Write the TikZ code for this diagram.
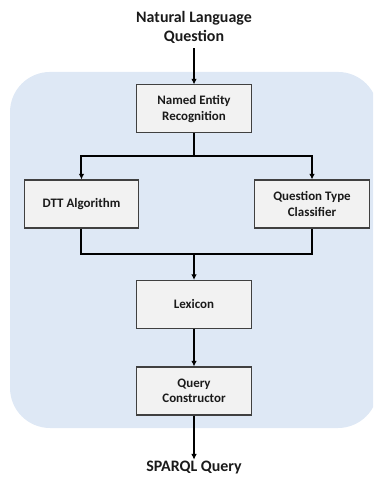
\documentclass[tikz,border=0pt]{standalone}
\usepackage{fontspec}
\setmainfont{Carlito}
\usetikzlibrary{arrows.meta,positioning}
\definecolor{panel}{HTML}{DEE8F5}
\definecolor{boxfill}{HTML}{F2F2F2}
\definecolor{boxline}{HTML}{404040}
\definecolor{ink}{HTML}{1A1A1A}
\tikzset{
  box/.style={draw=boxline,line width=0.8pt,align=center,fill=boxfill,
    minimum height=1.27cm,minimum width=3.04cm,inner sep=2pt,
    font=\bfseries\fontsize{9.75}{11.7}\selectfont,text=ink},
  arr/.style={-{Latex[length=1.5mm,width=1.5mm]},line width=1.5pt,black},
  link/.style={line width=1.5pt,black},
  io/.style={font=\bfseries\fontsize{12}{14.4}\selectfont,align=center,text=ink}
}

\begin{document}
\begin{tikzpicture}
  \useasboundingbox (0,0) rectangle (9.869,12.620);
  % shaded panel behind the pipeline
  \clip (0,0) rectangle (9.869,12.620);
  \fill[panel,rounded corners=1.06cm] (0.265,1.296) rectangle (10.0,10.716);

  \node[io] (question) at (5.133,11.893) {Natural Language\\Question};
  \node[box] (ner) at (5.133,9.737) {Named Entity\\Recognition};
  \coordinate (split) at (5.133,8.493);

  \node[box] (dtt) at (2.156,7.223) {DTT Algorithm};
  \node[box] (qtc) at (8.255,7.223) {Question Type\\Classifier};
  \coordinate (join) at (5.133,5.900);

  \node[box] (lexicon) at (5.133,4.564) {Lexicon};
  \node[box] (query) at (5.133,2.275) {Query\\Constructor};
  \node[io,anchor=base,inner sep=1pt] (sparql) at (5.133,0.14) {SPARQL Query};

  \draw[arr] (question) -- (ner);
  \draw[link] (ner) -- (split);
  \draw[arr] (split) -| (dtt.north);
  \draw[arr] (split) -| (qtc.north);
  \draw[link] (dtt.south) |- (join) -| (qtc.south);
  \draw[arr,line width=2.2pt] (join) -- (lexicon);
  \draw[arr] (lexicon) -- (query);
  \draw[arr] (query) -- (sparql.north);
\end{tikzpicture}
\end{document}
